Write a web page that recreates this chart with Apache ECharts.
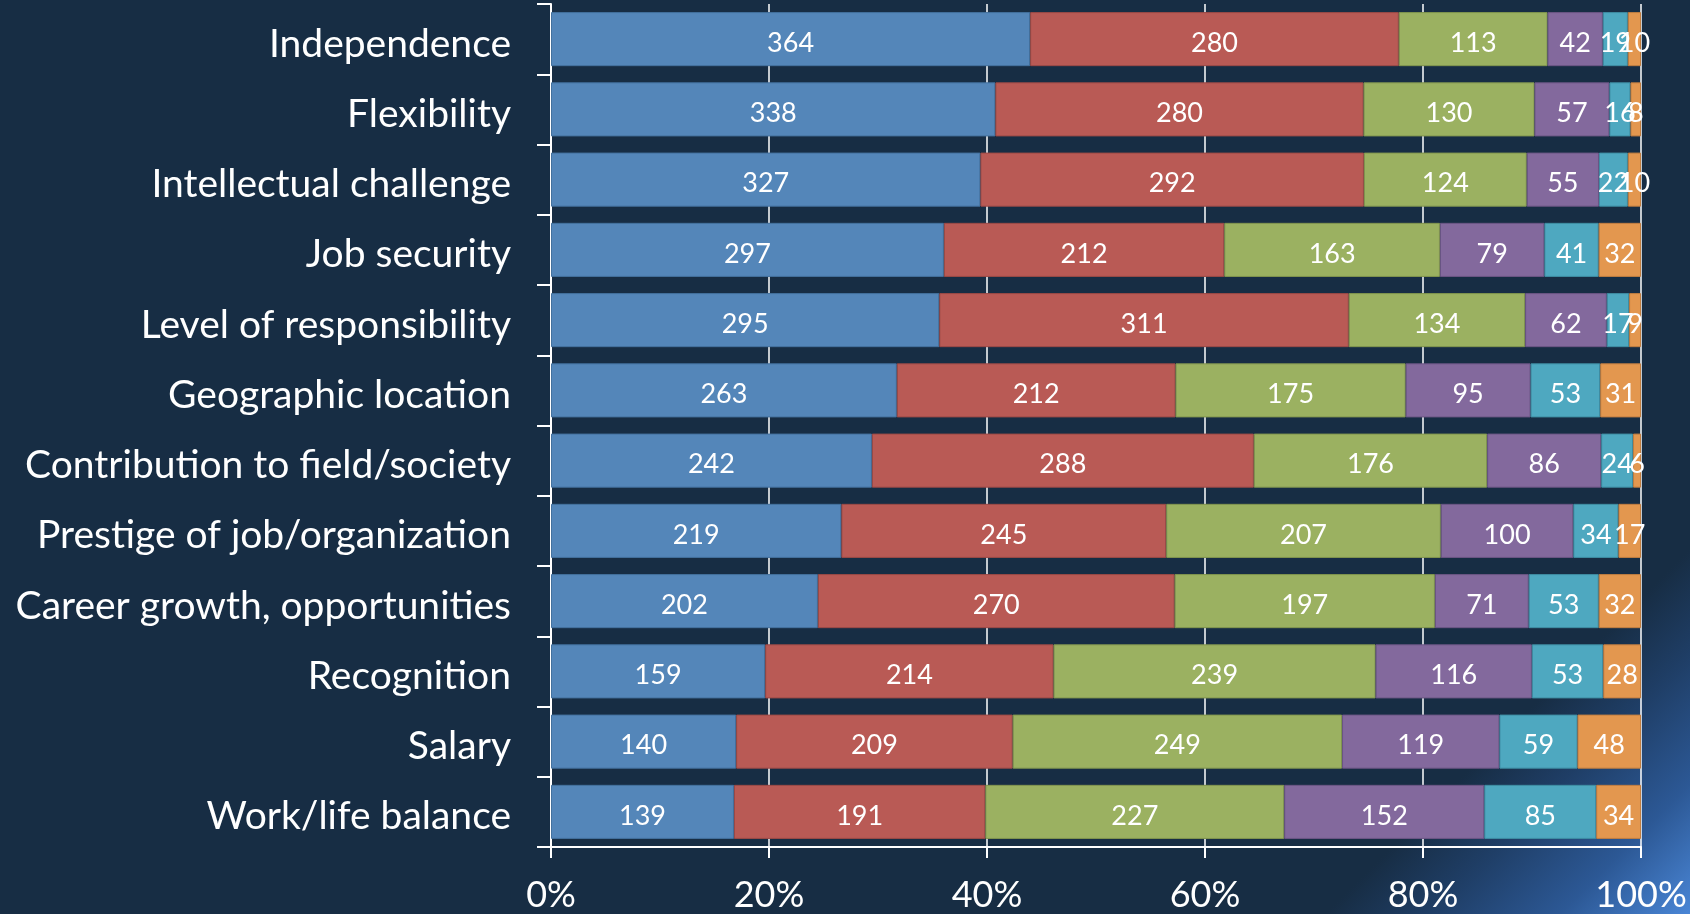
<!DOCTYPE html>
<html>
<head>
<meta charset="utf-8">
<title>Job factors</title>
<script src="https://cdn.jsdelivr.net/npm/echarts@6/dist/echarts.min.js"></script>
<style>
  html, body { margin: 0; padding: 0; background: #172d44; }
  #chart {
    width: 1690px;
    height: 914px;
    background: linear-gradient(135deg, #172d44 0%, #172d44 86%, #1f3e66 90%, #2c5895 95%, #4a86d6 100%);
  }
</style>
</head>
<body>
<div id="chart"></div>
<script>
// categories, top to bottom
var categories = [
  "Independence",
  "Flexibility",
  "Intellectual challenge",
  "Job security",
  "Level of responsibility",
  "Geographic location",
  "Contribution to field/society",
  "Prestige of job/organization",
  "Career growth, opportunities",
  "Recognition",
  "Salary",
  "Work/life balance"
];

// counts per rank (one array per stacked segment)
var rank1 = [364, 338, 327, 297, 295, 263, 242, 219, 202, 159, 140, 139];
var rank2 = [280, 280, 292, 212, 311, 212, 288, 245, 270, 214, 209, 191];
var rank3 = [113, 130, 124, 163, 134, 175, 176, 207, 197, 239, 249, 227];
var rank4 = [42, 57, 55, 79, 62, 95, 86, 100, 71, 116, 119, 152];
var rank5 = [19, 16, 22, 41, 17, 53, 24, 34, 53, 53, 59, 85];
var rank6 = [10, 8, 10, 32, 9, 31, 6, 17, 32, 28, 48, 34];

var seriesNames = ["Rank 1", "Rank 2", "Rank 3", "Rank 4", "Rank 5", "Rank 6"];
var xTicks = [0, 0.2, 0.4, 0.6, 0.8, 1];

var colors = ["#5486b9", "#b95a55", "#9bb161", "#83699d", "#4ea8c0", "#e3974f"];
var borders = ["#44719e", "#9c4a46", "#82964f", "#6c5685", "#3f8ea3", "#c27e40"];

var allRanks = [rank1, rank2, rank3, rank4, rank5, rank6];
// share of each category's total, for the 100% stack
var totals = categories.map(function (c, i) {
  var s = 0;
  allRanks.forEach(function (r) { s += r[i]; });
  return s;
});

var chart = echarts.init(document.getElementById("chart"));

var series = allRanks.map(function (arr, k) {
  return {
    name: seriesNames[k],
    type: "bar",
    stack: "total",
    barCategoryGap: "23%",
    itemStyle: {
      color: colors[k],
      borderColor: borders[k],
      borderWidth: 1
    },
    label: {
      show: true,
      position: "inside",
      color: "#ffffff",
      fontFamily: "Lato",
      fontSize: 27,
      offset: [0, 4],
      formatter: function (p) { return arr[p.dataIndex]; }
    },
    data: arr.map(function (v, i) { return v / totals[i]; })
  };
});

chart.setOption({
  backgroundColor: "transparent",
  animation: false,
  grid: {
    left: 551,
    right: 49,
    top: 4,
    bottom: 67
  },
  xAxis: {
    type: "value",
    min: 0,
    max: 1,
    interval: 0.2,
    axisLine: { show: true, lineStyle: { color: "#ffffff", width: 2 } },
    axisTick: { show: true, length: 11, lineStyle: { color: "#ffffff", width: 2 } },
    splitLine: { show: true, lineStyle: { color: "#ffffff", width: 1.5 } },
    axisLabel: {
      color: "#ffffff",
      fontFamily: "Lato",
      fontSize: 36,
      margin: 30,
      formatter: function (v) {
        var t = xTicks.filter(function (x) { return Math.abs(x - v) < 1e-6; })[0];
        return Math.round(t * 100) + "%";
      }
    }
  },
  yAxis: {
    type: "category",
    inverse: true,
    data: categories,
    axisLine: { show: true, lineStyle: { color: "#ffffff", width: 2 } },
    axisTick: { show: true, length: 14, lineStyle: { color: "#ffffff", width: 2 } },
    axisLabel: {
      color: "#ffffff",
      fontFamily: "Lato",
      fontSize: 39,
      margin: 40,
      formatter: function (v) { return "{a|" + v + "}"; },
      rich: {
        a: {
          color: "#ffffff",
          fontFamily: "Lato",
          fontSize: 39,
          padding: [10, 0, 0, 0]
        }
      }
    }
  },
  series: series
});
</script>
</body>
</html>
